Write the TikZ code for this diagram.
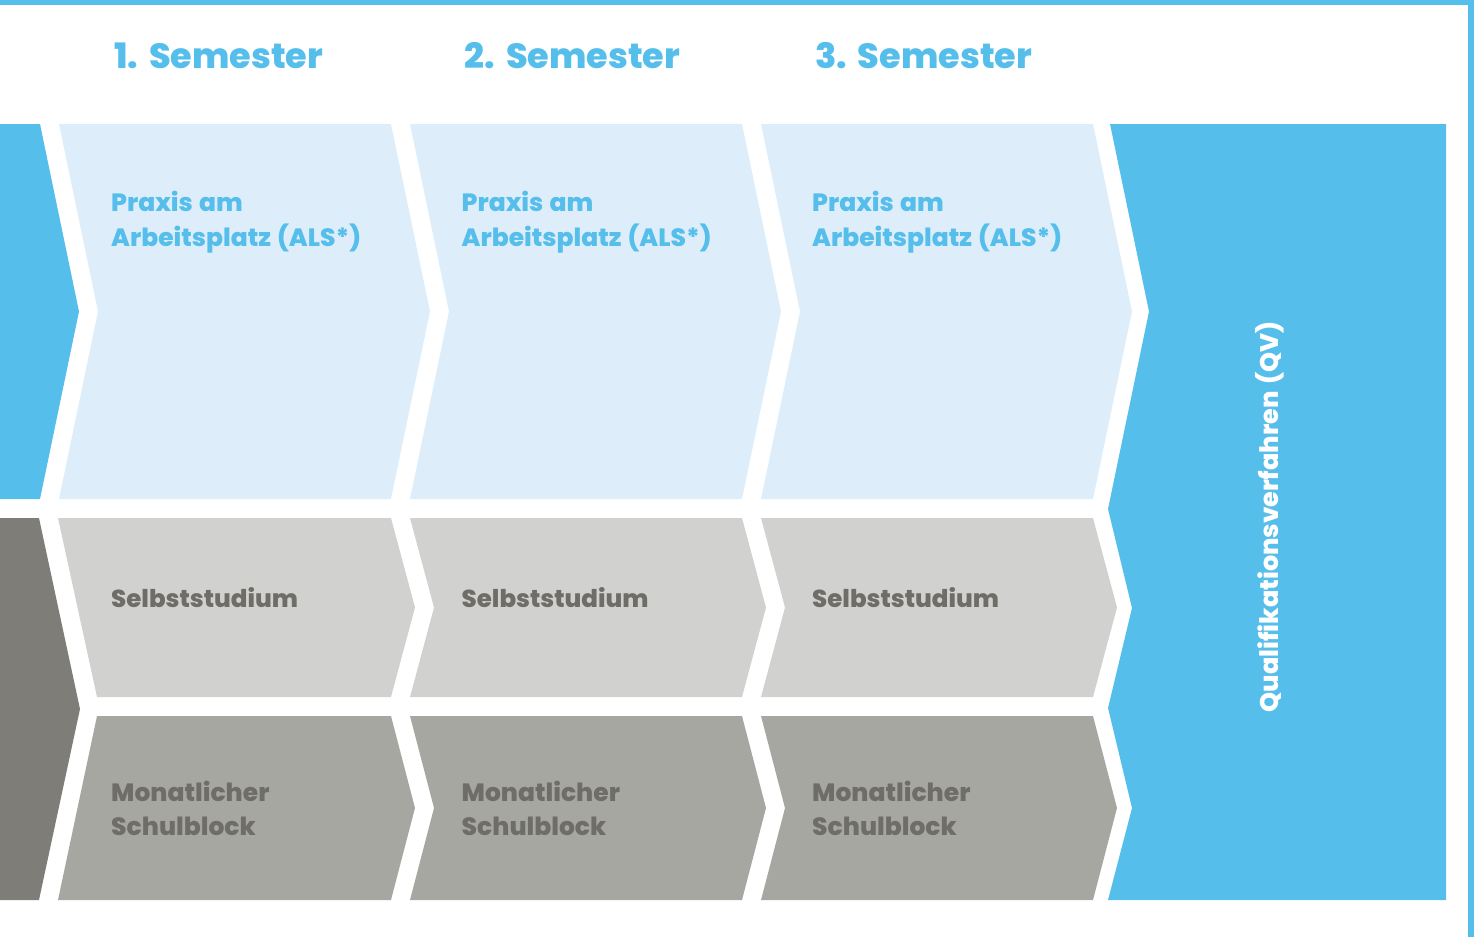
\documentclass[tikz,border=0pt]{standalone}
\usepackage{fontspec}
\setmainfont{Poppins}[BoldFont={Poppins ExtraBold}, BoldFeatures={WordSpace=1.3}]
\usepackage{tikz}

\begin{document}
\begin{tikzpicture}[x=1pt, y=-1pt,
  semtitle/.style={anchor=base west, inner sep=0pt, text=qvblue,
    font=\fontsize{35}{35}\selectfont\bfseries},
  praxistext/.style={anchor=north west, inner sep=0pt, align=left, text=qvblue,
    font=\fontsize{25}{35}\selectfont\bfseries},
  schultext/.style={anchor=north west, inner sep=0pt, align=left, text=txtgray,
    font=\fontsize{25}{34}\selectfont\bfseries}]

  \definecolor{qvblue}{HTML}{56BEEB}
  \definecolor{lightblue}{HTML}{DDEEFA}
  \definecolor{lightgray}{HTML}{D1D1CF}
  \definecolor{midgray}{HTML}{A7A7A2}
  \definecolor{darkgray}{HTML}{7E7D78}
  \definecolor{txtgray}{HTML}{6E6D68}

  \useasboundingbox (0,0) rectangle (1474,937);

  % frame top and right
  \fill[qvblue] (0,0) rectangle (1474,5);
  \fill[qvblue] (1468,0) rectangle (1474,937);

  % left strips
  \fill[qvblue] (0,124) -- (40,124) -- (79,311.5) -- (40,499) -- (0,499) -- cycle;
  \fill[darkgray] (0,518) -- (39,518) -- (80,709) -- (39,900) -- (0,900) -- cycle;

  % praxis row
  \foreach \k in {0,1,2}
    \fill[lightblue, xshift=\k*351pt]
      (59,124) -- (391,124) -- (430,311.5) -- (391,499) -- (59,499) -- (98,311.5) -- cycle;

  % selbststudium and schulblock rows
  \fill[lightgray] (58,518) -- (391,518) -- (415,607.5) -- (391,697) -- (97,697) -- cycle;
  \fill[midgray] (97,716) -- (391,716) -- (415,808) -- (391,900) -- (58,900) -- cycle;
  \foreach \k in {1,2}{
    \fill[lightgray, xshift=\k*351pt]
      (59,518) -- (391,518) -- (415,607.5) -- (391,697) -- (59,697) -- (83,607.5) -- cycle;
    \fill[midgray, xshift=\k*351pt]
      (59,716) -- (391,716) -- (415,808) -- (391,900) -- (59,900) -- (83,808) -- cycle;
  }

  % qualifikationsverfahren
  \fill[qvblue] (1110,124) -- (1446,124) -- (1446,900) -- (1108,900) -- (1132,808)
    -- (1108,708) -- (1132,608) -- (1108,509) -- (1149,311.5) -- cycle;
  \node[rotate=90, inner sep=0pt, text=white, font=\fontsize{25.5}{25.5}\selectfont\bfseries]
    (qv) at (1270,517) {Qualifikationsverfahren (QV)};

  % texts
  \foreach \k/\n in {0/1,1/2,2/3}{
    \node[semtitle] (sem\n) at (114+\k*350.5,68) {\n. Semester};
    \node[praxistext] (praxis\n) at (111+\k*350.5,191) {Praxis am\\Arbeitsplatz (ALS*)};
    \node[schultext, font=\fontsize{24.5}{34}\selectfont\bfseries] (selbst\n) at (111+\k*350.5,587) {Selbststudium};
    \node[schultext] (block\n) at (111+\k*350.5,781) {Monatlicher\\Schulblock};
  }
\end{tikzpicture}
\end{document}
